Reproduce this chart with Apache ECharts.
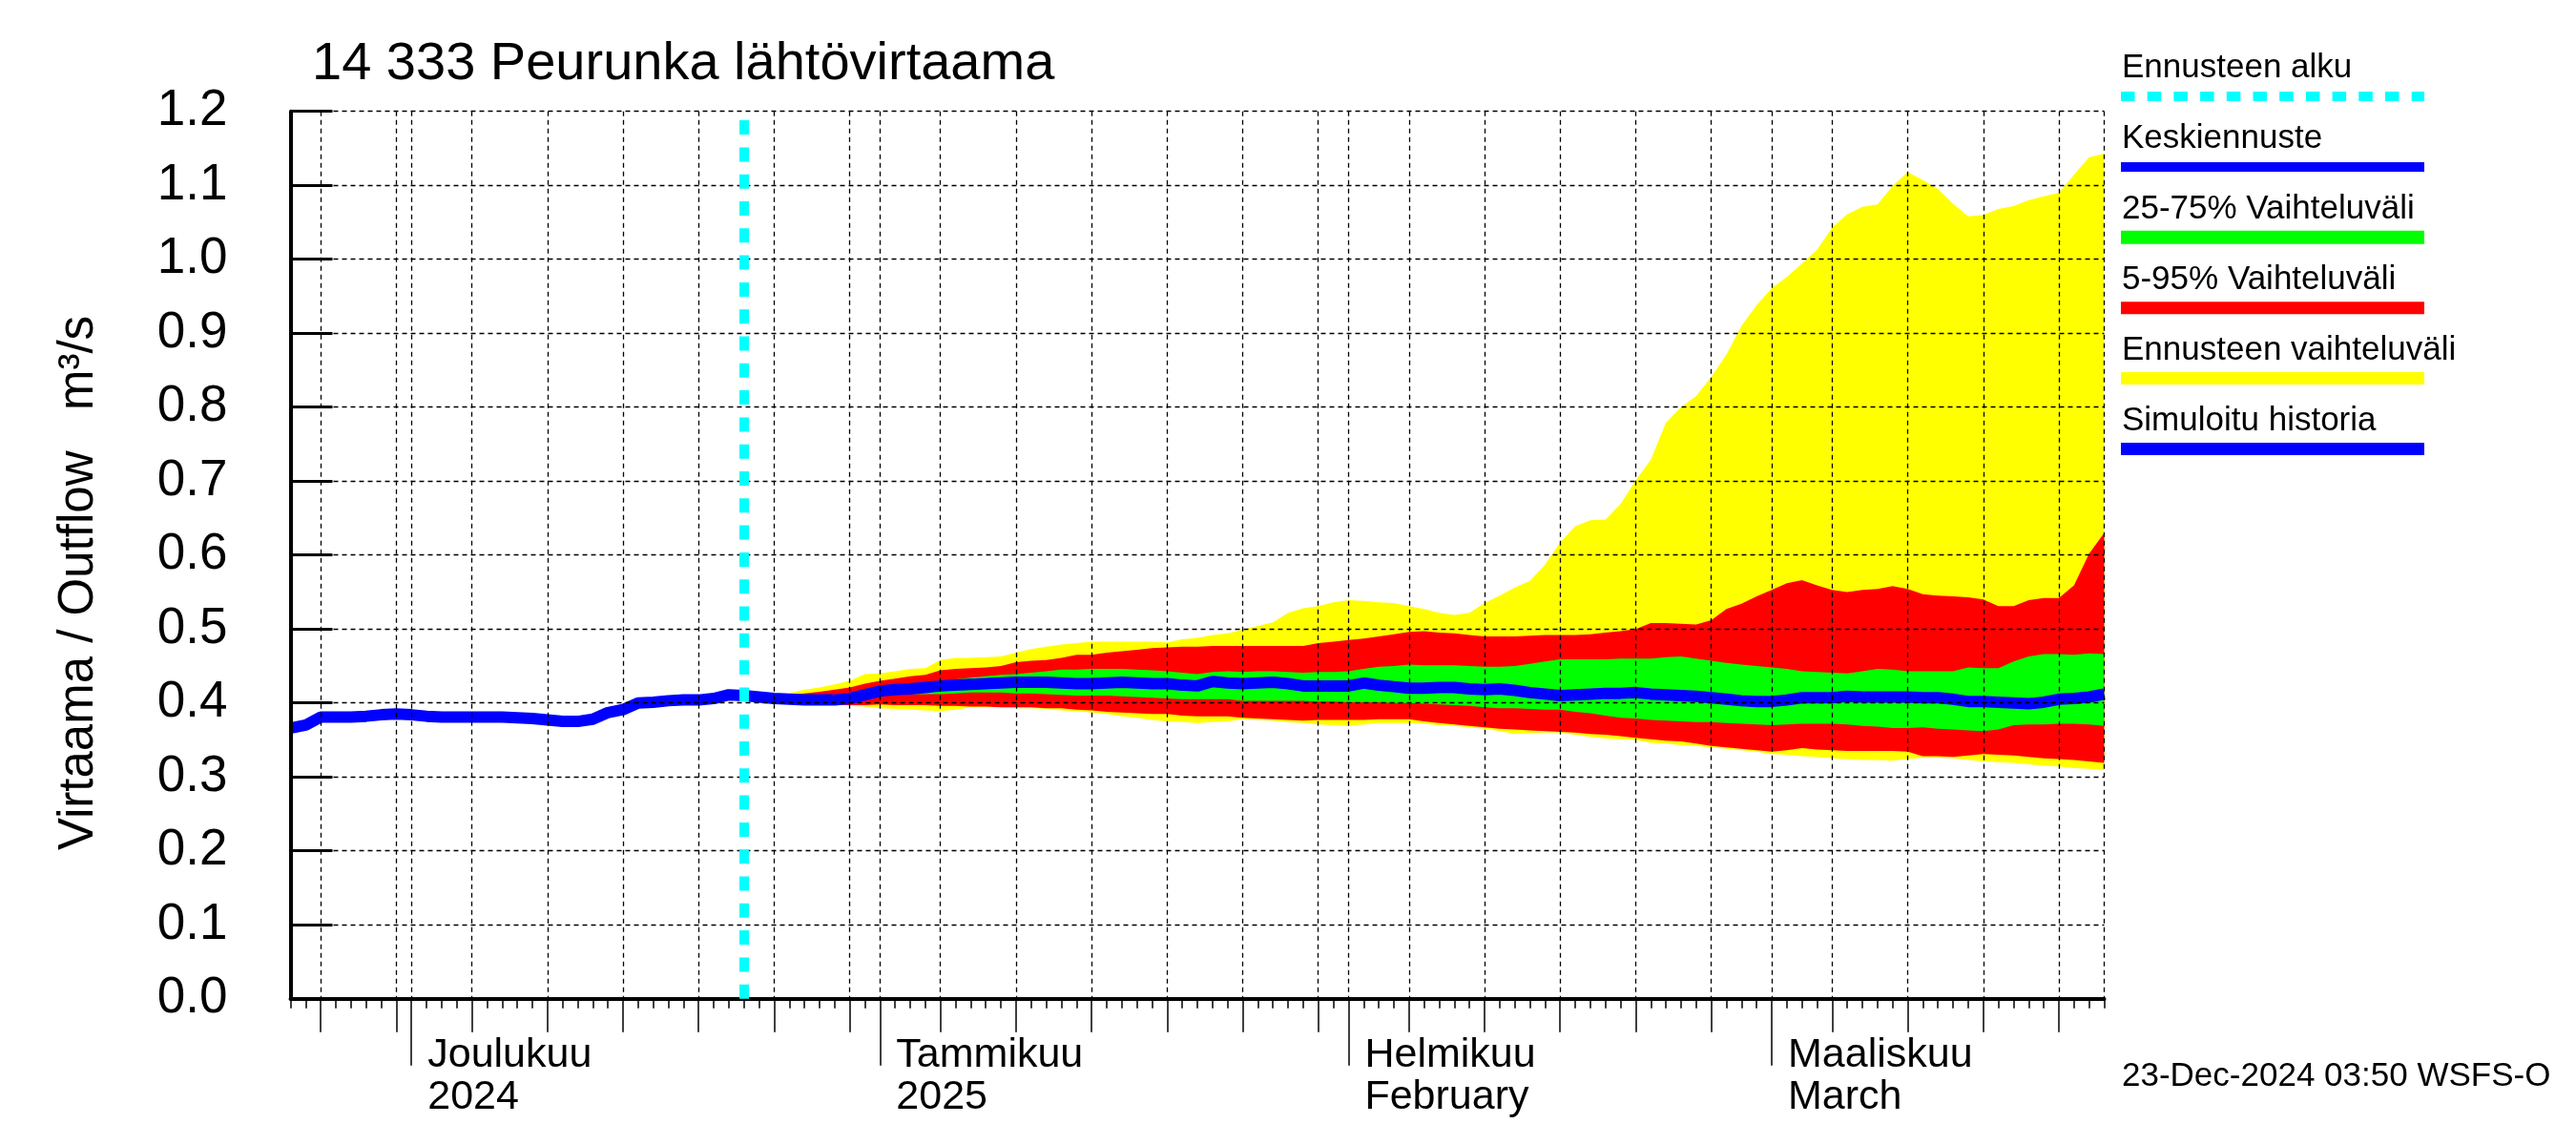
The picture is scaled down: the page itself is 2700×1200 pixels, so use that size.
<!DOCTYPE html>
<html><head><meta charset="utf-8">
<script src="https://cdn.jsdelivr.net/npm/echarts@6/dist/echarts.min.js"></script>
<style>html,body{margin:0;padding:0;background:#fff}#c{width:2700px;height:1200px}</style>
</head><body><div id="c"></div>
<script>
// ---- data ----
const startDate = [2024, 10, 23];     // 23 Nov 2024 (UTC, month 0-based)
const nDays = 120;                     // last day: 23 Mar 2025
const forecastStart = 30;              // 23 Dec 2024
const titleText = '14 333 Peurunka lähtövirtaama';
const yAxisTitle = 'Virtaama / Outflow   m³/s';
const stampText = '23-Dec-2024 03:50 WSFS-O';
const monthLabels = ['Joulukuu\n2024', 'Tammikuu\n2025', 'Helmikuu\nFebruary', 'Maaliskuu\nMarch'];
const legendNames = ['Ennusteen alku', 'Keskiennuste', '25-75% Vaihteluväli', '5-95% Vaihteluväli', 'Ennusteen vaihteluväli', 'Simuloitu historia'];

// simulated history, 23 Nov .. 23 Dec
const history = [0.366,0.370,0.381,0.381,0.381,0.382,0.384,0.385,0.384,0.382,
  0.381,0.381,0.381,0.381,0.381,0.380,0.379,0.377,0.375,0.375,
  0.378,0.387,0.391,0.400,0.401,0.403,0.404,0.404,0.406,0.411,0.410];

// forecast, 23 Dec .. 23 Mar
const median = [.410,.408,.406,.405,.404,.404,.404,.406,.411,.416,
  .418,.419,.421,.423,.424,.425,.426,.427,.428,.428,
  .428,.427,.426,.426,.427,.428,.427,.426,.426,.424,
  .423,.429,.427,.426,.427,.428,.426,.423,.423,.423,
  .423,.427,.424,.422,.420,.420,.421,.421,.419,.418,
  .419,.417,.414,.412,.410,.411,.412,.413,.413,.414,
  .412,.411,.410,.409,.407,.405,.403,.402,.402,.404,
  .407,.407,.407,.409,.408,.408,.408,.408,.407,.407,
  .405,.402,.402,.401,.400,.399,.401,.405,.406,.408,.412];
const p75 = [.410,.408,.406,.405,.405,.405,.406,.410,.414,.418,
  .422,.425,.427,.429,.432,.434,.436,.438,.439,.441,
  .443,.445,.445,.446,.446,.446,.445,.444,.443,.441,
  .439,.442,.443,.442,.443,.443,.442,.441,.442,.442,
  .443,.446,.449,.450,.452,.451,.451,.451,.450,.449,
  .449,.450,.453,.456,.459,.459,.459,.459,.460,.460,
  .460,.462,.463,.460,.457,.454,.452,.450,.448,.446,
  .443,.442,.441,.440,.443,.446,.445,.443,.443,.443,
  .443,.448,.447,.447,.456,.463,.466,.466,.465,.467,.466];
const p25 = [.410,.408,.406,.404,.403,.403,.403,.404,.408,.411,
  .412,.412,.412,.412,.413,.414,.414,.414,.413,.413,
  .412,.411,.410,.410,.410,.409,.408,.407,.406,.405,
  .405,.405,.405,.403,.403,.403,.403,.403,.402,.402,
  .401,.401,.401,.400,.400,.399,.398,.397,.396,.394,
  .393,.393,.392,.391,.391,.388,.386,.383,.380,.379,
  .377,.376,.375,.374,.374,.373,.372,.371,.370,.371,
  .372,.372,.372,.371,.369,.368,.366,.366,.367,.365,
  .364,.363,.362,.364,.370,.371,.371,.372,.372,.371,.369];
const p95 = [.410,.409,.409,.411,.413,.415,.418,.421,.426,.430,
  .433,.436,.438,.444,.446,.447,.448,.450,.455,.457,
  .458,.461,.465,.465,.468,.470,.472,.474,.475,.476,
  .476,.477,.477,.477,.477,.477,.477,.477,.481,.483,
  .485,.487,.490,.493,.496,.497,.495,.494,.492,.490,
  .490,.490,.491,.492,.492,.492,.493,.495,.497,.500,
  .508,.508,.507,.506,.512,.527,.534,.544,.553,.562,
  .566,.559,.553,.550,.553,.554,.558,.554,.547,.545,
  .544,.543,.540,.531,.531,.539,.542,.542,.559,.602,.630];
const p05 = [.410,.408,.406,.404,.402,.400,.398,.397,.397,.398,
  .397,.397,.397,.396,.396,.395,.395,.394,.394,.394,
  .393,.393,.391,.390,.388,.387,.386,.385,.385,.383,
  .382,.382,.382,.380,.379,.378,.377,.376,.377,.377,
  .377,.377,.378,.378,.378,.375,.373,.371,.369,.367,
  .365,.364,.363,.362,.361,.360,.358,.357,.355,.353,
  .351,.349,.348,.345,.342,.340,.338,.336,.334,.336,
  .339,.337,.336,.335,.335,.335,.335,.334,.328,.328,
  .327,.329,.331,.330,.329,.327,.325,.324,.323,.321,.319];
const pmax = [.410,.409,.410,.413,.418,.421,.425,.430,.439,.440,
  .443,.446,.447,.458,.461,.461,.462,.463,.468,.473,
  .476,.479,.481,.483,.483,.483,.483,.483,.482,.486,
  .488,.492,.494,.499,.504,.509,.522,.528,.531,.536,
  .539,.538,.536,.535,.531,.527,.522,.519,.522,.535,
  .545,.556,.565,.587,.617,.639,.647,.648,.669,.701,
  .729,.779,.800,.815,.841,.871,.910,.938,.961,.976,
  .994,1.013,1.043,1.061,1.071,1.074,1.099,1.118,1.107,1.095,
  1.075,1.058,1.060,1.068,1.072,1.080,1.085,1.090,1.114,1.138,1.143];
const pmin = [.410,.408,.406,.404,.402,.400,.398,.396,.395,.393,
  .392,.391,.390,.389,.391,.394,.394,.394,.393,.393,
  .392,.390,.389,.387,.385,.382,.380,.377,.375,.374,
  .373,.374,.375,.378,.377,.376,.374,.373,.371,.370,
  .369,.371,.373,.373,.373,.372,.370,.369,.367,.365,
  .362,.358,.359,.360,.360,.357,.354,.352,.351,.350,
  .346,.345,.343,.342,.340,.338,.336,.334,.331,.330,
  .328,.327,.325,.324,.323,.323,.322,.324,.326,.326,
  .325,.323,.321,.320,.319,.317,.315,.314,.312,.311,.309];

// ---- derived axis positions from the calendar ----
const DAY = 86400000;
const t0 = Date.UTC(startDate[0], startDate[1], startDate[2]);
const categories = [], midTicks = [], monthTicks = [];
for (let d = 0; d <= nDays; d++) {
  const dt = new Date(t0 + d * DAY);
  categories.push(dt.toISOString().slice(0, 10));
  const dom = dt.getUTCDate();
  if (dom === 1) monthTicks.push(d);
  else if (dom % 5 === 0) midTicks.push(d);
}
const pad = (arr, off) => categories.map((_, i) => (i >= off && i - off < arr.length) ? arr[i - off] : null);
const diff = (hi, lo) => hi.map((v, i) => +(v - lo[i]).toFixed(4));

const FF = '"Liberation Sans", Arial, Helvetica, sans-serif';
const L = 304.5, T = 116.7, R = 2205.5, B = 1046.7;
const gridLine = { show: true, lineStyle: { color: '#000', width: 1.3, type: [5, 4] } };

function band(name, lo, hi, color) {
  return [
    { name: name + '_lo', type: 'line', stack: name, data: pad(lo, forecastStart), symbol: 'none',
      lineStyle: { opacity: 0 }, silent: true, z: 2 },
    { name: name, type: 'line', stack: name, data: pad(diff(hi, lo), forecastStart), symbol: 'none',
      lineStyle: { opacity: 0 }, areaStyle: { color: color, opacity: 1 }, silent: true, z: 2 }
  ];
}

const chart = echarts.init(document.getElementById('c'), null, { renderer: 'canvas' });

const legendColors = ['#00ffff', '#0000ff', '#00ff00', '#ff0000', '#ffff00', '#0000ff'];
const legendThick = [10, 10, 14, 13, 13, 13];
const graphics = [
  { type: 'text', x: 327, y: 68, style: { text: titleText, fontSize: 56, fontFamily: FF, fill: '#000', verticalAlign: 'middle' } },
  { type: 'text', x: 82.5, y: 611, rotation: Math.PI / 2, style: { text: yAxisTitle, fontSize: 51, fontFamily: FF, fill: '#000', align: 'center', verticalAlign: 'middle' } },
  { type: 'text', x: 2224, y: 1128, style: { text: stampText, fontSize: 35, fontFamily: FF, fill: '#000', verticalAlign: 'middle' } }
];
legendNames.forEach((nm, i) => {
  graphics.push({ type: 'text', x: 2224, y: 71.5 + 74 * i, style: { text: nm, fontSize: 35, fontFamily: FF, fill: '#000', verticalAlign: 'middle' } });
  const cy = 101 + 73.9 * i;
  if (i === 0) {
    graphics.push({ type: 'line', shape: { x1: 2223, y1: cy, x2: 2541, y2: cy }, style: { stroke: legendColors[i], lineWidth: legendThick[i], lineDash: [14.5, 13.2] } });
  } else {
    graphics.push({ type: 'rect', shape: { x: 2223, y: cy - legendThick[i] / 2, width: 318, height: legendThick[i] }, style: { fill: legendColors[i] } });
  }
});

const option = {
  backgroundColor: '#fff',
  animation: false,
  grid: { left: L, top: T, width: R - L, height: B - T, containLabel: false },
  xAxis: [
    { type: 'category', data: categories, boundaryGap: false, show: false },
    { type: 'value', min: 0, max: nDays, interval: 1, position: 'bottom', z: 3,
      axisLine: { show: true, onZero: false, lineStyle: { color: '#000', width: 4 } },
      axisTick: { show: true, inside: false, length: 10, lineStyle: { color: '#000', width: 1.5 } },
      axisLabel: { show: false }, splitLine: { show: false } },
    { type: 'value', min: 0, max: nDays, position: 'bottom', z: 3,
      axisLine: { show: false },
      axisTick: { show: true, inside: false, length: 35, customValues: midTicks, lineStyle: { color: '#000', width: 1.5 } },
      axisLabel: { show: false }, splitLine: gridLine },
    { type: 'value', min: 0, max: nDays, position: 'bottom', z: 3,
      axisLine: { show: false },
      axisTick: { show: true, inside: false, length: 70, customValues: monthTicks, lineStyle: { color: '#000', width: 1.5 } },
      axisLabel: { show: true, customValues: monthTicks, formatter: v => monthLabels[monthTicks.indexOf(v)] || '',
        align: 'left', verticalAlign: 'top', padding: [0, 0, 0, 17], margin: 38,
        fontSize: 43, lineHeight: 43.3, fontFamily: FF, color: '#000' },
      splitLine: gridLine },
    { type: 'value', min: 0, max: nDays, position: 'bottom', z: 3,
      axisLine: { show: false },
      axisTick: { show: false, customValues: [nDays] },
      axisLabel: { show: false }, splitLine: gridLine }
  ],
  yAxis: {
    type: 'value', min: 0, max: 1.2, interval: 0.1, z: 3,
    axisLine: { show: true, onZero: false, lineStyle: { color: '#000', width: 4 } },
    axisTick: { show: true, inside: true, length: 44, lineStyle: { color: '#000', width: 3 } },
    axisLabel: { formatter: v => v.toFixed(1), fontSize: 53, fontFamily: FF, color: '#000', margin: 66,
      padding: [0, 0, 18, 0], verticalAlign: 'middle', showMinLabel: true, showMaxLabel: true },
    splitLine: gridLine
  },
  series: [
    ...band('Ennusteen vaihteluväli', pmin, pmax, '#ffff00'),
    ...band('5-95% Vaihteluväli', p05, p95, '#ff0000'),
    ...band('25-75% Vaihteluväli', p25, p75, '#00ff00'),
    { name: 'Simuloitu historia', type: 'line', data: pad(history, 0), symbol: 'none', z: 2,
      lineStyle: { color: '#0000ff', width: 12 } },
    { name: 'Keskiennuste', type: 'line', data: pad(median, forecastStart), symbol: 'none', z: 2,
      lineStyle: { color: '#0000ff', width: 12 },
      markLine: { silent: true, symbol: ['none', 'none'], label: { show: false }, z: 5,
        lineStyle: { color: '#00ffff', width: 10, type: [15, 13.3] },
        data: [{ xAxis: categories[forecastStart] }] } }
  ],
  graphic: graphics
};
chart.setOption(option);
</script></body></html>
